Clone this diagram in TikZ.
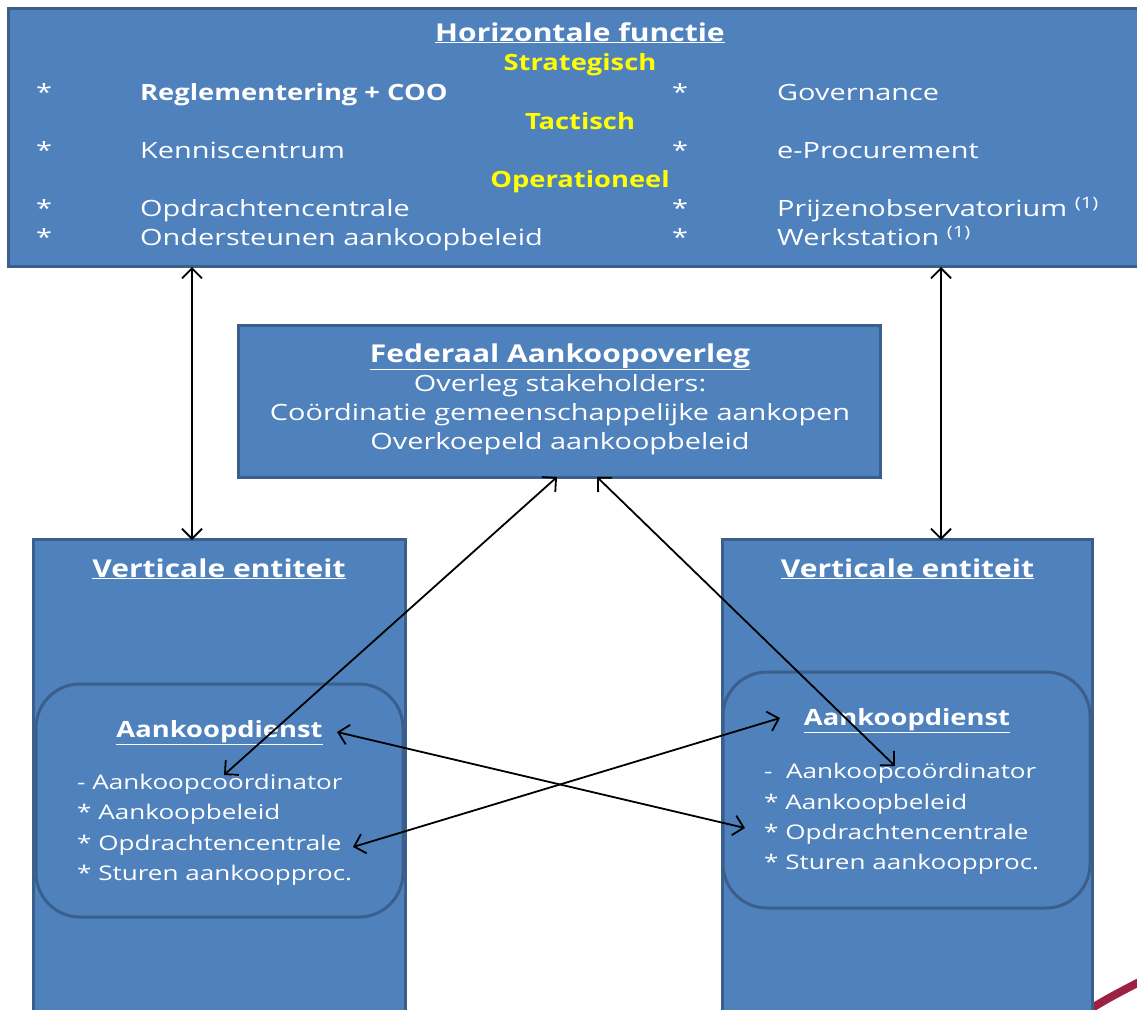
\documentclass[tikz,border=0pt]{standalone}
\usepackage{fontspec}
\setmainfont{Open Sans}[FakeStretch=1.29, BoldFeatures={FakeStretch=1.22}]
\usetikzlibrary{arrows.meta}
\definecolor{boxfill}{HTML}{4F81BD}
\definecolor{boxline}{HTML}{3A5F8C}
\definecolor{hlyellow}{HTML}{FFFF00}
\definecolor{deco}{HTML}{9B2242}
\tikzset{
  panel/.style={draw=boxline, fill=boxfill, line width=3pt, inner sep=0, rectangle},
  roundpanel/.style={panel, rounded corners=44pt},
  txt/.style={text=white, inner sep=0, font=\fontsize{22.4}{27}\selectfont},
  smalltxt/.style={text=white, inner sep=0, font=\fontsize{20.2}{24}\selectfont},
  head/.style={txt, font=\fontsize{22.4}{27}\selectfont\bfseries},
  bighead/.style={txt, font=\fontsize{24.6}{29}\selectfont\bfseries},
  lvl/.style={txt, text=hlyellow, font=\fontsize{22.4}{27}\selectfont\bfseries},
  link/.style={line width=1.8pt, {Straight Barb[length=10pt,width=20pt]}-{Straight Barb[length=10pt,width=20pt]}}
}
\begin{document}
\begin{tikzpicture}[x=1pt,y=-1pt]
\useasboundingbox (0,0) rectangle (1137,1009);
\fill[white] (0,0) rectangle (1137,1009);
% decorative curve
\draw[deco, line width=8pt] (1080,1016) .. controls (1100,1002) and (1120,992) .. (1145,979);
% boxes
\node[panel, minimum width=1130pt, minimum height=258pt] (top) at (573,137) {};
\node[panel, minimum width=642pt, minimum height=152pt] (mid) at (559,401) {};
\node[panel, minimum width=372pt, minimum height=485pt] (vl) at (219,782) {};
\node[panel, minimum width=370pt, minimum height=485pt] (vr) at (907,782) {};
\node[roundpanel, minimum width=367pt, minimum height=233pt] (il) at (219.5,800.5) {};
\node[roundpanel, minimum width=367pt, minimum height=236pt] (ir) at (906.5,790) {};
% top box texts
\node[bighead, anchor=base] (toptitle) at (580,41) {\underline{Horizontale functie}};
\node[lvl, anchor=base] (strat) at (580,70) {Strategisch};
\node[lvl, anchor=base] (tact) at (580,129) {Tactisch};
\node[lvl, anchor=base] (oper) at (580,187) {Operationeel};
\node[txt, anchor=base west] (s1) at (36,100) {*};
\node[txt, anchor=base west] (s2) at (36,158) {*};
\node[txt, anchor=base west] (s3) at (36,216) {*};
\node[txt, anchor=base west] (s4) at (36,245) {*};
\node[head, anchor=base west] (t1) at (140,100) {Reglementering + COO};
\node[txt, anchor=base west] (t2) at (140,158) {Kenniscentrum};
\node[txt, anchor=base west] (t3) at (140,216) {Opdrachtencentrale};
\node[txt, anchor=base west] (t4) at (140,245) {Ondersteunen aankoopbeleid};
\node[txt, anchor=base west] (r1) at (672,100) {*};
\node[txt, anchor=base west] (r2) at (672,158) {*};
\node[txt, anchor=base west] (r3) at (672,216) {*};
\node[txt, anchor=base west] (r4) at (672,245) {*};
\node[txt, anchor=base west] (u1) at (777,100) {Governance};
\node[txt, anchor=base west] (u2) at (777,158) {e-Procurement};
\node[txt, anchor=base west] (u3) at (777,216) {Prijzenobservatorium \textsuperscript{(1)}};
\node[txt, anchor=base west] (u4) at (777,245) {Werkstation \textsuperscript{(1)}};
% middle box texts
\node[bighead, anchor=base] (midtitle) at (560,362) {\underline{Federaal Aankoopoverleg}};
\node[txt, anchor=base] (m1) at (560,391) {Overleg stakeholders:};
\node[txt, anchor=base] (m2) at (560,420) {Coördinatie gemeenschappelijke aankopen};
\node[txt, anchor=base] (m3) at (560,449) {Overkoepeld aankoopbeleid};
% left vertical texts
\node[bighead, anchor=base] (vltitle) at (219,577) {\underline{Verticale entiteit}};
\node[head, anchor=base] (iltitle) at (219.5,737) {\underline{Aankoopdienst}};
\node[smalltxt, anchor=base west] (l1) at (77,789) {- Aankoopcoördinator};
\node[smalltxt, anchor=base west] (l2) at (77,819) {* Aankoopbeleid};
\node[smalltxt, anchor=base west] (l3) at (77,850) {* Opdrachtencentrale};
\node[smalltxt, anchor=base west] (l4) at (77,880) {* Sturen aankoopproc.};
% right vertical texts
\node[bighead, anchor=base] (vrtitle) at (907.5,577) {\underline{Verticale entiteit}};
\node[head, anchor=base] (irtitle) at (907,725) {\underline{Aankoopdienst}};
\node[smalltxt, anchor=base west] (q1) at (764,778) {-\ \ Aankoopcoördinator};
\node[smalltxt, anchor=base west] (q2) at (764,809) {* Aankoopbeleid};
\node[smalltxt, anchor=base west] (q3) at (764,839) {* Opdrachtencentrale};
\node[smalltxt, anchor=base west] (q4) at (764,869) {* Sturen aankoopproc.};
% connector end points
\coordinate (topL) at (192,267);
\coordinate (vlT) at (192,540);
\coordinate (topR) at (941,267);
\coordinate (vrT) at (941,540);
\coordinate (midA) at (557,477);
\coordinate (lcoord) at (224,775);
\coordinate (midB) at (597,477);
\coordinate (rcoord) at (895,766);
\coordinate (lhead) at (337,732);
\coordinate (ropd) at (745,828);
\coordinate (lopd) at (353,847);
\coordinate (rhead) at (780,718);
% connectors
\draw[link] (topL) -- (vlT);
\draw[link] (topR) -- (vrT);
\draw[link] (midA) -- (lcoord);
\draw[link] (midB) -- (rcoord);
\draw[link] (lhead) -- (ropd);
\draw[link] (lopd) -- (rhead);
\end{tikzpicture}
\end{document}
